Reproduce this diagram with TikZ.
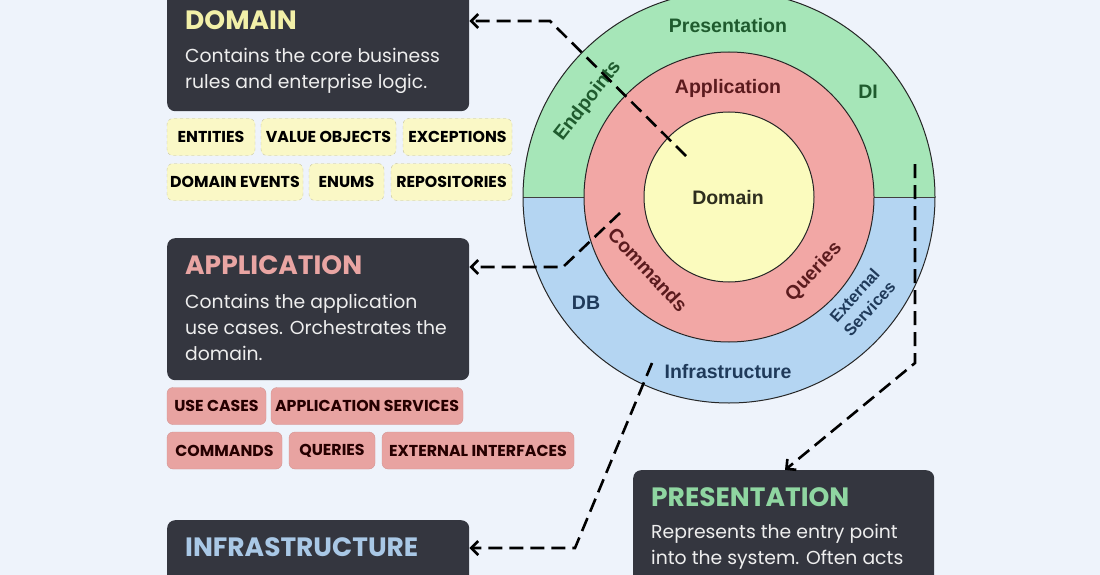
\documentclass[tikz,border=0pt]{standalone}
\usepackage{fontspec}
\setmainfont{Poppins}
\newfontfamily\rotulofont{Liberation Sans}
\usetikzlibrary{arrows.meta,positioning}
\definecolor{fundo}{HTML}{EEF3FB}
\definecolor{caixaesc}{HTML}{34363F}
\definecolor{textoclaro}{HTML}{EEEEEE}
\definecolor{verdeanel}{HTML}{A6E6B8}
\definecolor{azulanel}{HTML}{B4D5F2}
\definecolor{rosaanel}{HTML}{F2A7A5}
\definecolor{amarelonucleo}{HTML}{FBFBBE}
\definecolor{tdominio}{HTML}{F2F0A8}
\definecolor{taplic}{HTML}{E9A5A3}
\definecolor{tinfra}{HTML}{A9C8E6}
\definecolor{tapres}{HTML}{8FD6A1}
\definecolor{tagamarelo}{HTML}{FAF8C6}
\definecolor{tagamareloborda}{HTML}{C4C19C}
\definecolor{tagrosa}{HTML}{E8A3A1}
\definecolor{tagrosaborda}{HTML}{D39593}
\definecolor{verdeescuro}{HTML}{1F5B2E}
\definecolor{vinho}{HTML}{5B1B1E}
\definecolor{azulescuro}{HTML}{1F3A5A}
\definecolor{oliva}{HTML}{2E2E1E}
\tikzset{
  caixa/.style={fill=caixaesc, rounded corners=8pt, minimum width=302pt, anchor=north west, inner sep=0pt},
  titulo/.style={anchor=west, inner sep=0pt, font=\fontsize{26.5}{30}\selectfont\bfseries},
  corpo/.style={anchor=west, align=left, inner sep=0pt, text=textoclaro, font=\fontsize{18.8}{26}\selectfont},
  tagdom/.style={draw=tagamareloborda, dashed, fill=tagamarelo, rounded corners=6pt, minimum height=37pt, inner sep=0pt, text=black, font=\fontsize{15.8}{17}\selectfont\bfseries},
  tagapp/.style={draw=tagrosaborda, fill=tagrosa, rounded corners=6pt, minimum height=37pt, inner sep=0pt, text=black!85!red, font=\fontsize{15.8}{17}\selectfont\bfseries},
  rotulo/.style={inner sep=0pt, align=center, font=\rotulofont\bfseries\fontsize{19.5}{22}\selectfont},
  seta/.style={line width=2.6pt, dash pattern=on 14pt off 7pt, -{Straight Barb[length=7pt,width=14pt]}}
}
\begin{document}
\begin{tikzpicture}[x=1pt,y=-1pt]
  \useasboundingbox (0,0) rectangle (1100,575);
  \clip (0,0) rectangle (1100,575);
  \fill[fundo] (0,0) rectangle (1100,575);
  % Centro e raios dos aneis
  \def\cx{729}
  \def\cy{197}
  \def\rout{206}
  \def\rmid{145}
  \def\rin{85}
  % Anel externo: azul embaixo, verde em cima
  \fill[azulanel] (\cx,\cy) circle (\rout);
  \begin{scope}
    \clip (\cx-\rout-5,\cy-\rout-5) rectangle (\cx+\rout+5,\cy);
    \fill[verdeanel] (\cx,\cy) circle (\rout);
  \end{scope}
  \draw[black!75, line width=0.6pt] (\cx-\rout,\cy) -- (\cx+\rout,\cy);
  \draw[black!85, line width=1pt] (\cx,\cy) circle (\rout);
  \fill[rosaanel, draw=black!85, line width=1pt] (\cx,\cy) circle (\rmid);
  \fill[amarelonucleo, draw=black!85, line width=1pt] (\cx,\cy) circle (\rin);
  % Rotulos dos aneis
  \node[rotulo, text=verdeescuro] (lpres) at (728,26) {Presentation};
  \node[rotulo, text=verdeescuro] (ldi) at (868,92) {DI};
  \node[rotulo, text=verdeescuro, rotate=52] (lend) at (588,101) {Endpoints};
  \node[rotulo, text=vinho] (lapp) at (728,88) {Application};
  \node[rotulo, text=vinho, rotate=-47] (lcmd) at (648,270) {Commands};
  \node[rotulo, text=vinho, rotate=47] (lqry) at (814,272) {Queries};
  \node[rotulo, text=oliva] (ldom) at (728,198) {Domain};
  \node[rotulo, text=azulescuro] (ldb) at (586,303) {DB};
  \node[rotulo, text=azulescuro] (linfra) at (728,372) {Infrastructure};
  \node[rotulo, text=azulescuro, rotate=48, font=\rotulofont\bfseries\fontsize{16.5}{20}\selectfont] (lext) at (862,302) {External\\Services};
  % Caixa DOMAIN
  \node[caixa, minimum height=131pt] (dombox) at (167,-20) {};
  \node[titulo, text=tdominio] (domtit) at (185,20) {DOMAIN};
  \node[corpo] (domtxt) at (185,70.5) {Contains the core business\\rules and enterprise logic.};
  \node[tagdom, minimum width=88pt] (tentities) at (211,137) {ENTITIES};
  \node[tagdom, minimum width=135pt] (tvalue) at (328.5,137) {VALUE OBJECTS};
  \node[tagdom, minimum width=109pt] (texcept) at (457.5,137) {EXCEPTIONS};
  \node[tagdom, minimum width=136pt] (tevents) at (235,182) {DOMAIN EVENTS};
  \node[tagdom, minimum width=75pt] (tenums) at (346.5,182) {ENUMS};
  \node[tagdom, minimum width=121pt] (trepos) at (451.5,182) {REPOSITORIES};
  % Caixa APPLICATION
  \node[caixa, minimum height=142pt] (appbox) at (167,238) {};
  \node[titulo, text=taplic] (apptit) at (185,265) {APPLICATION};
  \node[corpo] (apptxt) at (185,327.5) {Contains the application\\use cases. Orchestrates the\\domain.};
  \node[tagapp, minimum width=99pt] (tusecases) at (216.5,406) {USE CASES};
  \node[tagapp, minimum width=192pt] (tservices) at (367,406) {APPLICATION SERVICES};
  \node[tagapp, minimum width=115pt] (tcommands) at (224.5,450.5) {COMMANDS};
  \node[tagapp, minimum width=86pt] (tqueries) at (332,450.5) {QUERIES};
  \node[tagapp, minimum width=192pt] (texternal) at (478,450.5) {EXTERNAL INTERFACES};
  % Caixa INFRASTRUCTURE
  \node[caixa, minimum height=120pt] (infbox) at (167,520) {};
  \node[titulo, text=tinfra] (inftit) at (185,547) {INFRASTRUCTURE};
  % Caixa PRESENTATION
  \node[caixa, minimum width=301pt, minimum height=150pt] (presbox) at (633,470) {};
  \node[titulo, text=tapres] (prestit) at (651,497) {PRESENTATION};
  \node[corpo] (prestxt) at (651,547) {Represents the entry point\\into the system. Often acts};
  % Setas tracejadas
  \coordinate (domini) at (686,156);
  \coordinate (domcanto) at (550,21);
  \coordinate (appini) at (620,213);
  \coordinate (appcanto) at (563,267);
  \coordinate (infini) at (652,363);
  \coordinate (infcanto) at (575,548);
  \coordinate (presini) at (915,164);
  \coordinate (prescanto) at (915,363);
  \draw[seta] (domini) -- (domcanto) -- (domcanto -| dombox.east);
  \draw[seta] (appini) -- (appcanto) -- (appcanto -| appbox.east);
  \draw[seta] (infini) -- (infcanto) -- (infcanto -| infbox.east);
  \draw[seta] (presini) -- (prescanto) -- (785,469 |- presbox.north);
\end{tikzpicture}
\end{document}
